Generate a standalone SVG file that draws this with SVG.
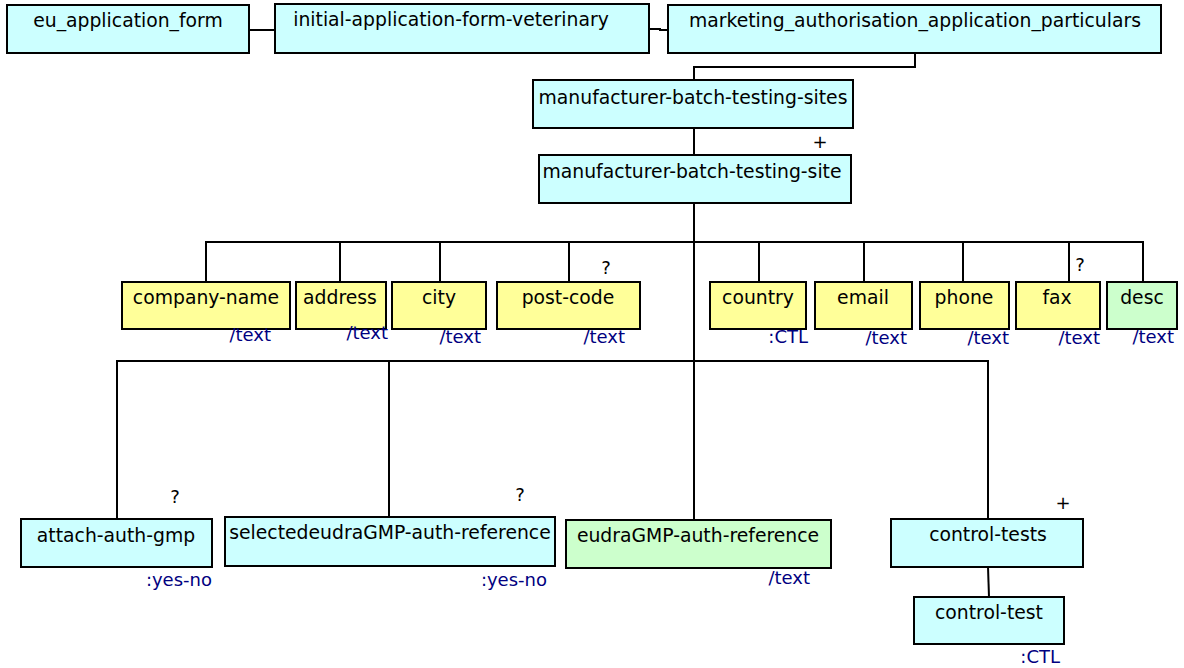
<svg xmlns="http://www.w3.org/2000/svg" width="1184" height="668" viewBox="0 0 1184 668">
<style>
rect{stroke:#000;stroke-width:2}
.c{fill:#ccffff}.y{fill:#ffff99}.g{fill:#ccffcc}
text{font-family:"DejaVu Sans",Verdana,sans-serif;font-size:18.8px;fill:#000}
.n{text-anchor:middle}
.t{fill:#000080;text-anchor:end;font-size:18px}
text.m{text-anchor:middle;font-size:18px;fill:#000}
#conn path{fill:none;stroke:#000;stroke-width:2}
</style>
<rect width="1184" height="668" fill="#fff" style="stroke:none"/>
<g id="conn">
<path d="M249 30H275"/>
<path d="M649 29H660V30H668"/>
<path d="M915 53V67H694V80"/>
<path d="M694 128V155"/>
<path d="M694 203V361"/>
<path d="M206 282V242H1143V282"/>
<path d="M340 242V282M440 242V282M569 242V282M759 242V282M864 242V282M963 242V282M1069 242V282"/>
<path d="M117 519V361H988V519"/>
<path d="M389 361V517M694 361V520"/>
<path d="M988 567L989 597"/>
</g>
<g id="eu_application_form"><rect class="c" x="7" y="5" width="242" height="48"/><text class="n" x="128" y="27">eu_application_form</text></g>
<g id="initial-application-form-veterinary"><rect class="c" x="275" y="4" width="374" height="49"/><text class="n" x="451" y="26">initial-application-form-veterinary</text></g>
<g id="marketing_authorisation_application_particulars"><rect class="c" x="668" y="5" width="493" height="48"/><text class="n" x="915" y="27">marketing_authorisation_application_particulars</text></g>
<g id="manufacturer-batch-testing-sites"><rect class="c" x="533" y="80" width="320" height="48"/><text class="n" x="693" y="104">manufacturer-batch-testing-sites</text><text class="m" x="820" y="148">+</text></g>
<g id="manufacturer-batch-testing-site"><rect class="c" x="539" y="155" width="312" height="48"/><text class="n" x="692" y="178">manufacturer-batch-testing-site</text></g>
<g id="company-name"><rect class="y" x="122" y="282" width="168" height="47"/><text class="n" x="206" y="304">company-name</text><text class="t" x="271" y="341">/text</text></g>
<g id="address"><rect class="y" x="296" y="282" width="90" height="47"/><text class="n" x="340" y="304">address</text><text class="t" x="388" y="339">/text</text></g>
<g id="city"><rect class="y" x="392" y="282" width="94" height="47"/><text class="n" x="439" y="304">city</text><text class="t" x="481" y="343">/text</text></g>
<g id="post-code"><rect class="y" x="497" y="282" width="143" height="47"/><text class="n" x="568" y="304">post-code</text><text class="t" x="625" y="343">/text</text><text class="m" x="606" y="274">?</text></g>
<g id="country"><rect class="y" x="710" y="282" width="96" height="47"/><text class="n" x="758" y="304">country</text><text class="t" x="808" y="343">:CTL</text></g>
<g id="email"><rect class="y" x="815" y="282" width="97" height="47"/><text class="n" x="863" y="304">email</text><text class="t" x="907" y="344">/text</text></g>
<g id="phone"><rect class="y" x="920" y="282" width="89" height="47"/><text class="n" x="964" y="304">phone</text><text class="t" x="1009" y="344">/text</text></g>
<g id="fax"><rect class="y" x="1016" y="282" width="84" height="47"/><text class="n" x="1057" y="304">fax</text><text class="t" x="1100" y="344">/text</text><text class="m" x="1080" y="271">?</text></g>
<g id="desc"><rect class="g" x="1107" y="282" width="70" height="47"/><text class="n" x="1142" y="304">desc</text><text class="t" x="1174" y="343">/text</text></g>
<g id="attach-auth-gmp"><rect class="c" x="21" y="519" width="191" height="48"/><text class="n" x="116" y="542">attach-auth-gmp</text><text class="t" x="212" y="586">:yes-no</text><text class="m" x="175" y="503">?</text></g>
<g id="selectedeudraGMP-auth-reference"><rect class="c" x="225" y="517" width="330" height="49"/><text class="n" x="390" y="539">selectedeudraGMP-auth-reference</text><text class="t" x="547" y="586">:yes-no</text><text class="m" x="520" y="501">?</text></g>
<g id="eudraGMP-auth-reference"><rect class="g" x="566" y="520" width="265" height="48"/><text class="n" x="698" y="542">eudraGMP-auth-reference</text><text class="t" x="810" y="584">/text</text></g>
<g id="control-tests"><rect class="c" x="891" y="519" width="192" height="48"/><text class="n" x="988" y="541">control-tests</text><text class="m" x="1063" y="509">+</text></g>
<g id="control-test"><rect class="c" x="914" y="597" width="150" height="47"/><text class="n" x="989" y="619">control-test</text><text class="t" x="1060" y="663">:CTL</text></g>
</svg>
